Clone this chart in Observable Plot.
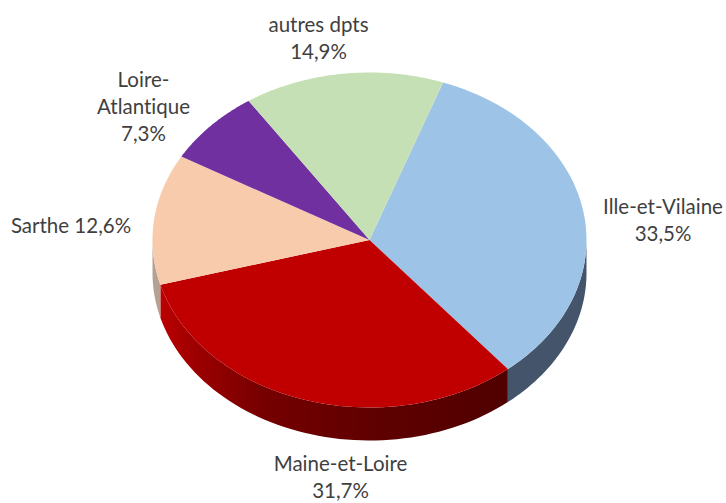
<!DOCTYPE html>
<html lang="fr">
<head>
<meta charset="utf-8">
<title>Répartition par département</title>
<script src="https://cdn.jsdelivr.net/npm/d3@7"></script>
<script src="https://cdn.jsdelivr.net/npm/@observablehq/plot@0.6"></script>
<style>html,body{margin:0;padding:0;background:#fff}svg{display:block}svg text{font-variant-ligatures:none}</style>
</head>
<body>
<div id="chart"></div>
<script>
// Values, clockwise from the first slice
const departments = ["Ille-et-Vilaine", "Maine-et-Loire", "Sarthe", "Loire-Atlantique", "autres dpts"];
const shares = [33.5, 31.7, 12.6, 7.3, 14.9];
const labelTexts = ["Ille-et-Vilaine\n33,5%", "Maine-et-Loire\n31,7%", "Sarthe 12,6%", "Loire-\nAtlantique\n7,3%", "autres dpts\n14,9%"];

// Styles
const topColors = ["#9dc3e6", "#c00000", "#f8cbad", "#7030a0", "#c5e0b4"];
const wallColors = ["#44546a", "url(#redWall)", "#b5a294", "#4a2070", "#83957a"];

// Layout
const labelX = [662.5, 340, 70.5, 143, 318];
const labelY = [218, 475.5, 224, 105, 36.5];
const cx = 369, cy = 239.5, rx = 217, ry = 167.5, depth = 33;
const startAngle = 19.8; // degrees clockwise from 12 o'clock

const rad = d => d * Math.PI / 180;
const px = a => cx + rx * Math.sin(rad(a));
const py = (a, dy = 0) => cy - ry * Math.cos(rad(a)) + dy;

const sampled = (a0, a1) => d3.range(0, 61).map(i => a0 + (a1 - a0) * i / 60);

let acc = startAngle;
const slices = shares.map((s, i) => {
  const a0 = acc, a1 = acc + s * 3.6;
  acc = a1;
  return {name: departments[i], a0, a1, top: topColors[i], wall: wallColors[i]};
});

const topPoints = s => [[cx, cy], ...sampled(s.a0, s.a1).map(a => [px(a), py(a)])];
const wallPoints = s => {
  // the wall is seen only on the front half of the ellipse, 90° to 270°
  const lo = Math.max(s.a0, 90), hi = Math.min(s.a1, 270);
  if (hi <= lo) return [];
  const arc = sampled(lo, hi);
  return [...arc.map(a => [px(a), py(a)]), ...arc.slice().reverse().map(a => [px(a), py(a, depth)])];
};

const gradient = () => {
  const svgNS = "http://www.w3.org/2000/svg";
  const defs = document.createElementNS(svgNS, "defs");
  defs.innerHTML = `<linearGradient id="redWall" gradientUnits="userSpaceOnUse" x1="155" y1="0" x2="510" y2="0">
    <stop offset="0" stop-color="#c00000"/><stop offset="0.1" stop-color="#a00000"/>
    <stop offset="0.3" stop-color="#760000"/><stop offset="0.6" stop-color="#600000"/>
    <stop offset="1" stop-color="#500000"/></linearGradient>`;
  return defs;
};

const chart = Plot.plot({
  width: 726,
  height: 503,
  margin: 0,
  x: {domain: [0, 726], range: [0, 726], axis: null},
  y: {domain: [0, 503], range: [0, 503], axis: null},
  marks: [
    gradient,
    ...slices.map(s => Plot.line(wallPoints(s), {x: d => d[0], y: d => d[1], fill: s.wall, stroke: "none"})),
    ...slices.map(s => Plot.line(topPoints(s), {x: d => d[0], y: d => d[1], fill: s.top, stroke: "none"})),
    Plot.text(labelTexts, {
      x: (d, i) => labelX[i],
      y: (d, i) => labelY[i],
      text: d => d,
      fontFamily: "Lato, 'Open Sans', sans-serif",
      fontSize: 20.5,
      lineHeight: 1.32,
      fill: "#3f3f3f",
      textAnchor: "middle"
    })
  ]
});
document.getElementById("chart").append(chart);
</script>
</body>
</html>
